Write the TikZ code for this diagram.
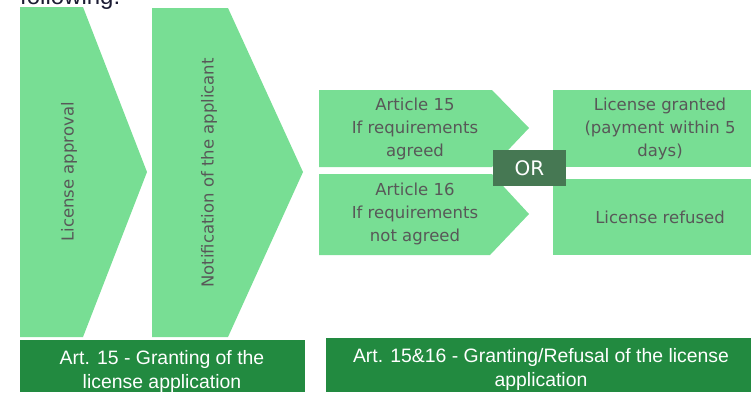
\documentclass[tikz,border=0pt]{standalone}
\usepackage{fontspec}
\setmainfont{Liberation Sans}
\newfontfamily\stepfont{DejaVu Sans}
\usetikzlibrary{calc}
\definecolor{lGreen}{HTML}{78DE94}
\definecolor{dGreen}{HTML}{228A40}
\definecolor{oGreen}{HTML}{467853}
\definecolor{tGrey}{HTML}{585858}
\definecolor{hNavy}{HTML}{1B1B33}
\tikzset{
    chevron/.style={
            fill=lGreen
        },
    steptext/.style={
            align=center,
            text=tGrey,
            inner sep=0pt, % text only
            font=\stepfont\fontsize{16.5}{23}\selectfont
        },
    footbox/.style={
            fill=dGreen,
            text=white,
            align=center,
            inner sep=0pt,
            font=\fontsize{19.4}{24}\selectfont
        },
}
\begin{document}
\begin{tikzpicture}[
        x=1pt,
        y=-1pt,
    ]
    \useasboundingbox (0,0) rectangle (751,392);
    % heading, cut off at the top
    \node[anchor=base west, inner sep=0pt, text=hNavy,
        font=\fontsize{24}{24}\selectfont] (head) at (20,4) {following:};
    % big chevrons
    \fill[chevron] (20,7) -- (83,7) -- (147,172) -- (83,337) -- (20,337) -- cycle;
    \fill[chevron] (152,8) -- (228,8) -- (303,172) -- (228,337) -- (152,337) -- cycle;
    \node[steptext, rotate=90] (approval) at (69,172) {License approval};
    \node[steptext, rotate=90] (notify) at (209,173) {Notification of the applicant};
    % small chevrons
    \fill[chevron] (319,90) -- (492,90) -- (529,128) -- (492,167) -- (319,167) -- cycle;
    \fill[chevron] (319,174) -- (492,174) -- (529,214) -- (490,255) -- (319,255) -- cycle;
    \node[steptext] (art15) at (415,129) {Article 15\\If requirements\\agreed};
    \node[steptext] (art16) at (415,214) {Article 16\\If requirements\\not agreed};
    % outcomes
    \fill[chevron] (553,90) rectangle (751,167);
    \fill[chevron] (553,179) rectangle (751,255);
    \node[steptext] (granted) at (660,129) {License granted\\(payment within 5\\days)};
    \node[steptext] (refused) at (660,217) {License refused};
    % or box
    \node[fill=oGreen, text=white, minimum width=73pt, minimum height=36pt,
        inner sep=0pt, font=\stepfont\fontsize{20}{20}\selectfont] (or) at (529.5,168) {OR};
    % footers
    \fill[dGreen] (20,340) rectangle (305,392);
    \fill[dGreen] (326,338) rectangle (751,392);
    \node[footbox] (foot1) at (162,371) {Art. 15 - Granting of the\\license application};
    \node[footbox] (foot2) at (541,369) {Art. 15\&16 - Granting/Refusal of the license\\application};
\end{tikzpicture}
\end{document}
